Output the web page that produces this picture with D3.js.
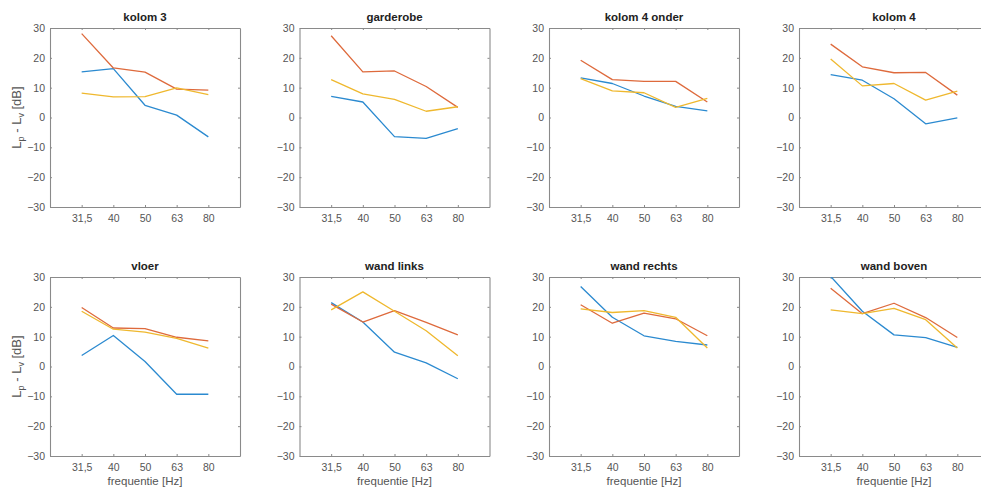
<!DOCTYPE html>
<html>
<head>
<meta charset="utf-8">
<script src="https://cdn.jsdelivr.net/npm/d3@7"></script>
<style>
  body { margin: 0; background: #fff; }
  svg { display: block; font-family: "Liberation Sans", Arial, sans-serif; }
</style>
</head>
<body>
<div id="chart-area"></div>
<script>
// frequency bands
var freqs = ["31,5", "40", "50", "63", "80"];
var yTicks = [-30, -20, -10, 0, 10, 20, 30];
var titles = ["kolom 3", "garderobe", "kolom 4 onder", "kolom 4",
              "vloer", "wand links", "wand rechts", "wand boven"];

// one array per series, one row per panel
var blue = [
    [15.3, 16.4, 4.1, 0.8, -6.5],
    [7.1, 5.2, -6.4, -7.0, -3.7],
    [13.3, 11.4, 7.2, 3.7, 2.2],
    [14.4, 12.5, 6.3, -2.1, -0.1],
    [3.7, 10.4, 1.7, -9.3, -9.3],
    [21.4, 14.9, 4.8, 1.2, -4.1],
    [26.8, 16.5, 10.3, 8.4, 7.2],
    [30.2, 18.5, 10.6, 9.7, 6.4]
];
var orange = [
    [28.1, 16.6, 15.2, 9.5, 9.2],
    [27.4, 15.3, 15.6, 10.4, 3.4],
    [19.2, 12.7, 12.1, 12.1, 5.2],
    [24.6, 17.0, 15.0, 15.1, 7.5],
    [19.8, 12.9, 12.7, 9.8, 8.6],
    [20.9, 14.9, 18.7, 14.8, 10.6],
    [20.7, 14.5, 17.9, 16.0, 10.3],
    [26.2, 17.7, 21.2, 16.4, 9.7]
];
var yellow = [
    [8.2, 6.9, 7.0, 9.9, 7.7],
    [12.7, 7.9, 6.1, 2.1, 3.6],
    [13.0, 8.9, 8.3, 3.4, 6.4],
    [19.6, 10.6, 11.4, 5.8, 8.8],
    [18.5, 12.5, 11.5, 9.4, 6.2],
    [19.0, 25.0, 18.5, 12.0, 3.6],
    [19.3, 18.1, 18.7, 16.5, 6.2],
    [19.0, 17.7, 19.5, 15.7, 6.2]
];

var colors = ["#2b8ad0", "#de6a3c", "#efb82e"];

var W = 981, H = 493;
var plotW = 190, plotH = 179;
var colX = [50, 299.5, 549, 799];
var rowY = [28, 277];

var svg = d3.select("#chart-area").append("svg")
    .attr("width", W)
    .attr("height", H);

var x = d3.scaleLinear().domain([0, 6]).range([0, plotW]);
var y = d3.scaleLinear().domain([-30, 30]).range([plotH, 0]);

var line = d3.line()
    .x((d, i) => x(i + 1))
    .y(d => y(d));

titles.forEach((title, p) => {
    var row = Math.floor(p / 4), col = p % 4;
    var g = svg.append("g")
        .attr("transform", `translate(${colX[col]},${rowY[row]})`);

    // white background
    g.append("rect")
        .attr("width", plotW).attr("height", plotH)
        .attr("fill", "#fff");

    var clipId = "clip" + p;
    g.append("clipPath").attr("id", clipId)
        .append("rect").attr("width", plotW).attr("height", plotH);

    // axes: inward ticks on all four sides
    var xb = g.append("g").attr("transform", `translate(0,${plotH})`)
        .call(d3.axisBottom(x).tickValues([1, 2, 3, 4, 5])
            .tickFormat((d, i) => freqs[i]).tickSizeInner(-2).tickSizeOuter(0).tickPadding(8));
    var xt = g.append("g")
        .call(d3.axisTop(x).tickValues([1, 2, 3, 4, 5])
            .tickFormat("").tickSizeInner(-2).tickSizeOuter(0));
    var yl = g.append("g")
        .call(d3.axisLeft(y).tickValues(yTicks)
            .tickFormat(d3.format("d")).tickSizeInner(-2).tickSizeOuter(0).tickPadding(5));
    var yr = g.append("g").attr("transform", `translate(${plotW},0)`)
        .call(d3.axisRight(y).tickValues(yTicks)
            .tickFormat("").tickSizeInner(-2).tickSizeOuter(0));

    [xb, xt, yl, yr].forEach(a => {
        a.select(".domain").attr("stroke", "#8a8a8a").attr("stroke-width", 1.1);
        a.selectAll(".tick line").attr("stroke", "#8a8a8a");
        a.selectAll(".tick text").attr("fill", "#555").attr("font-size", 10.5);
    });

    var series = [blue[p], orange[p], yellow[p]];
    g.append("g").attr("clip-path", `url(#${clipId})`)
        .selectAll("path")
        .data(series)
        .enter()
        .append("path")
            .attr("d", d => line(d))
            .attr("fill", "none")
            .attr("stroke", (d, i) => colors[i])
            .attr("stroke-width", 1.3)
            .attr("stroke-linejoin", "round");

    g.append("text")
        .attr("x", plotW / 2).attr("y", -7)
        .attr("text-anchor", "middle")
        .attr("font-size", 11.5).attr("font-weight", "bold")
        .attr("fill", "#222")
        .text(title);

    if (row === 1) {
        g.append("text")
            .attr("x", plotW / 2).attr("y", plotH + 29)
            .attr("text-anchor", "middle")
            .attr("font-size", 11.5).attr("fill", "#555")
            .text("frequentie [Hz]");
    }

    if (col === 0) {
        var lab = g.append("text")
            .attr("transform", `translate(-29,${plotH / 2}) rotate(-90)`)
            .attr("text-anchor", "middle")
            .attr("font-size", 13).attr("fill", "#555");
        lab.append("tspan").text("L");
        lab.append("tspan").attr("font-size", 9).attr("dy", 3).text("p");
        lab.append("tspan").attr("dy", -3).text(" - L");
        lab.append("tspan").attr("font-size", 9).attr("dy", 3).text("v");
        lab.append("tspan").attr("dy", -3).text(" [dB]");
    }
});
</script>
</body>
</html>
